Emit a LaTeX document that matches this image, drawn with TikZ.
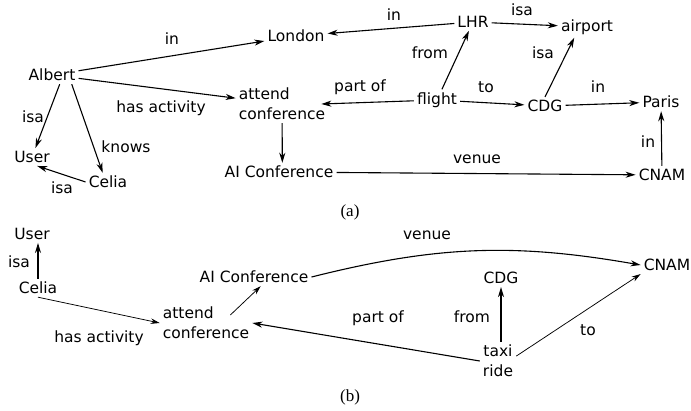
\documentclass[tikz,border=0pt]{standalone}
\usepackage{fontspec}
\setmainfont{DejaVu Sans}
\newfontfamily\capfont{Liberation Serif}
\usepackage{tikz}
\usetikzlibrary{arrows.meta}

\tikzset{
  ent/.style={inner sep=3pt, font=\fontsize{15.5}{20}\selectfont},
  lbl/.style={inner sep=0pt, font=\fontsize{15.5}{20}\selectfont},
  arr/.style={-{Stealth[length=10pt,width=6pt,inset=3pt]}, line width=1.1pt},
  tarr/.style={-{Stealth[length=9pt,width=5.5pt,inset=3pt]}, line width=0.75pt},
  subcap/.style={inner sep=0pt, font=\capfont\fontsize{17}{20}\selectfont}
}

\begin{document}
\begin{tikzpicture}[x=1pt, y=-1pt]
\useasboundingbox (0,0) rectangle (691,410);

\node[ent] (albert) at (52,75) {Albert};
\node[ent] (london) at (296,36) {London};
\node[ent] (lhr) at (473,22) {LHR};
\node[ent] (airport) at (587,27) {airport};
\node[ent, align=left] (attend) at (282,104) {attend\\conference};
\node[ent] (flight) at (437,100) {flight};
\node[ent] (cdg) at (545,106) {CDG};
\node[ent] (paris) at (661,102) {Paris};
\node[ent] (user) at (32,157) {User};
\node[ent] (celia) at (108,182) {Celia};
\node[ent] (aiconf) at (279,172) {AI Conference};
\node[ent] (cnam) at (662,175) {CNAM};

\node[lbl] (inLondon) at (172,39) {in};
\node[lbl] (hasAct) at (161,108) {has activity};
\node[lbl] (isaUser) at (33,117) {isa};
\node[lbl] (knows) at (126,147) {knows};
\node[lbl] (isaCelia) at (62,188) {isa};
\node[lbl] (inLhr) at (394,15) {in};
\node[lbl] (isaLhr) at (522,10) {isa};
\node[lbl] (fromLhr) at (430,53) {from};
\node[lbl] (isaCdg) at (543,53) {isa};
\node[lbl] (partOf) at (360,87) {part of};
\node[lbl] (toCdg) at (486,87) {to};
\node[lbl] (inParis) at (598,87) {in};
\node[lbl] (inCnam) at (648,142) {in};
\node[lbl] (venue) at (477,159) {venue};

\draw[arr] (albert) -- (london);
\draw[arr] (albert) -- (attend);
\draw[arr] (albert.-50) -- (user);
\draw[arr] (albert.-25) -- (celia.120);
\draw[arr] (celia.west) -- (user.-60);
\draw[arr] (attend) -- (aiconf.70);
\draw[arr] (aiconf) -- (cnam);
\draw[arr] (flight) -- ([xshift=-7pt]attend.east);
\draw[arr] (flight) -- (lhr);
\draw[arr] (flight) -- (cdg);
\draw[arr] (cdg) -- (paris);
\draw[arr] (cdg.north) -- (airport.-140);
\draw[arr] (lhr) -- (london);
\draw[arr] (lhr) -- (airport);
\draw[arr] (cnam) -- (paris);

\node[subcap] (capA) at (350,212) {(a)};

\node[ent] (user2) at (32,234) {User};
\node[ent] (celia2) at (38,288) {Celia};
\node[ent] (aiconf2) at (254,277) {AI Conference};
\node[ent, align=left] (attend2) at (206,323) {attend\\conference};
\node[ent] (cnam2) at (667,265) {CNAM};
\node[ent] (cdg2) at (501,278) {CDG};
\node[ent, align=center] (taxi) at (498,361) {taxi\\ride};

\node[lbl] (isaUser2) at (19,262) {isa};
\node[lbl] (hasAct2) at (99,338) {has activity};
\node[lbl] (venue2) at (427,235) {venue};
\node[lbl] (fromCdg2) at (472,317) {from};
\node[lbl] (partOf2) at (378,318) {part of};
\node[lbl] (toCnam2) at (588,330) {to};

\draw[arr] (celia2.north) -- (celia2.north |- user2.south);
\draw[tarr] (celia2.south) -- (attend2.west);
\draw[tarr] ([shift={(-22,-8)}]attend2.east) -- (aiconf2.-54);
\draw[arr] (aiconf2.east) to[bend left=12] (cnam2.west);
\draw[arr] (taxi.west) -- (attend2.east);
\draw[arr] (cdg2.south |- taxi.north) -- (cdg2.south);
\draw[tarr] (taxi.15) -- (cnam2.south west);

\node[subcap] (capB) at (350,397) {(b)};
\end{tikzpicture}
\end{document}
